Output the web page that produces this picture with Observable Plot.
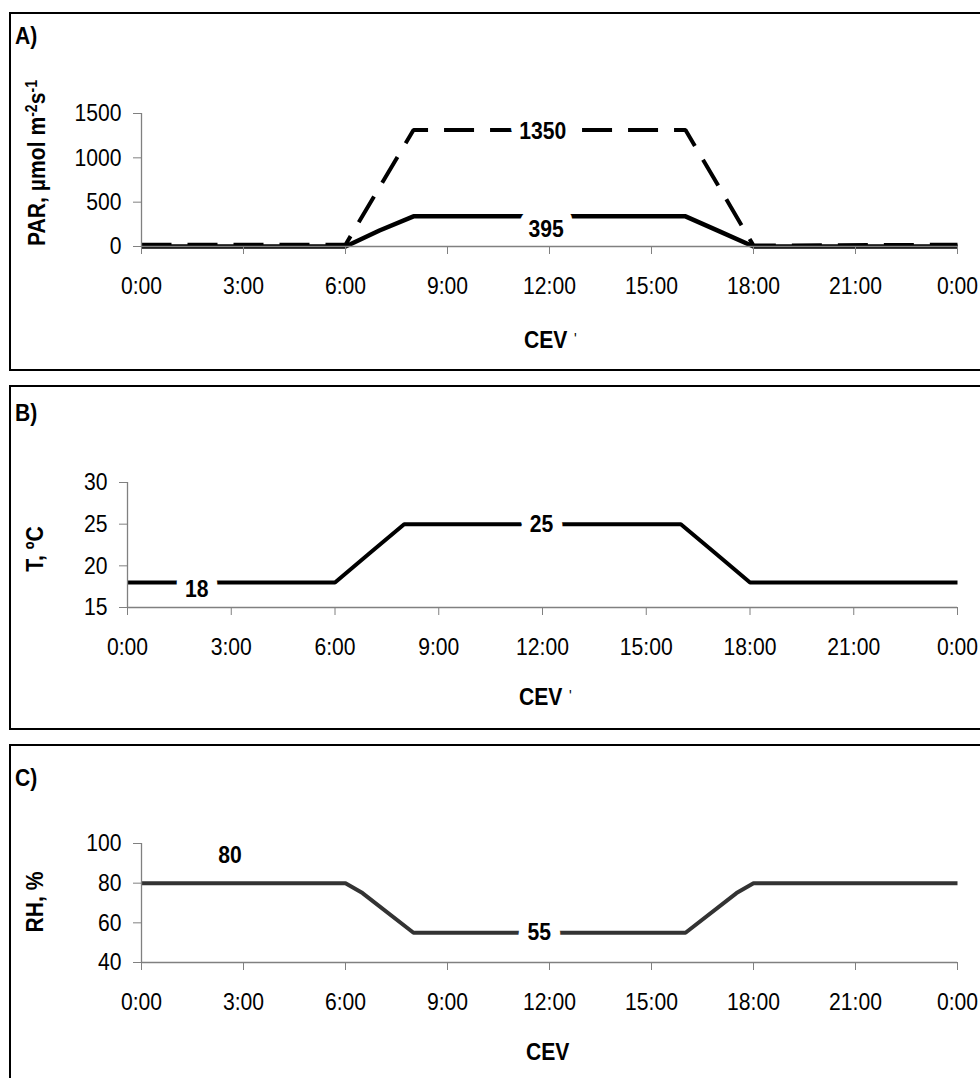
<!DOCTYPE html>
<html><head><meta charset="utf-8">
<script src="https://cdn.jsdelivr.net/npm/d3@7"></script>
<script src="https://cdn.jsdelivr.net/npm/@observablehq/plot@0.6"></script>
<style>
body{margin:0;background:#fff;}
#page{position:relative;width:980px;height:1078px;overflow:hidden;background:#fff;}
.panel{position:absolute;left:0;width:980px;}
.box{position:absolute;left:9px;width:1000px;border:2px solid #000;box-sizing:border-box;pointer-events:none;}
</style></head><body><div id="page"></div>
<script>
const FONT = '"Liberation Sans Narrow","Arial Narrow","Liberation Sans",Arial,sans-serif';
const SQUEEZE = 0.88;

// shared x axis (hours of the day)
const hourTicks = [0, 3, 6, 9, 12, 15, 18, 21, 24];
const hourLabels = ["0:00", "3:00", "6:00", "9:00", "12:00", "15:00", "18:00", "21:00", "0:00"];

// A) PAR
const parLowHours = [0, 6, 7, 8, 16, 17, 18, 24];
const parLowValues = [0, 0, 180, 340, 340, 170, 0, 0];
const parHighHours = [0, 6, 8, 16, 18, 24];
const parHighValues = [20, 20, 1315, 1315, 10, 20];
const parTicks = [0, 500, 1000, 1500];
const parLabelText = ["1350", "395"];
const parLabelHours = [11.8, 11.9];
const parLabelValues = [1300, 190];

// B) Temperature
const tempHours = [0, 6, 7, 8, 16, 17, 18, 24];
const tempValues = [18, 18, 21.5, 25, 25, 21.5, 18, 18];
const tempTicks = [15, 20, 25, 30];
const tempLabelText = ["18", "25"];
const tempLabelHours = [2.0, 11.97];
const tempLabelValues = [17.2, 24.95];

// C) Relative humidity
const rhHours = [0, 6, 6.5, 8, 16, 17.5, 18, 24];
const rhValues = [80, 80, 75, 55, 55, 75, 80, 80];
const rhTicks = [40, 60, 80, 100];
const rhLabelText = ["80", "55"];
const rhLabelHours = [2.6, 11.7];
const rhLabelValues = [94, 55.1];

const zip = (hs, vs) => hs.map((h, i) => ({h, v: vs[i]}));
const labelRows = (t, hs, vs) => t.map((s, i) => ({text: s, h: hs[i], v: vs[i]}));

const page = document.getElementById("page");

function squeeze(svg) {
  d3.select(svg).selectAll("text").each(function() {
    const len = this.getComputedTextLength();
    if (len > 0) {
      this.setAttribute("textLength", (len * SQUEEZE).toFixed(2));
      this.setAttribute("lengthAdjust", "spacingAndGlyphs");
    }
  });
}

function panel(cfg) {
  const marks = [];
  for (const s of cfg.series) {
    marks.push(Plot.line(s.data, {x: "h", y: "v", stroke: s.color, strokeWidth: s.width,
      strokeDasharray: s.dash || null, strokeLinejoin: "miter", strokeLinecap: "butt"}));
  }
  marks.push(Plot.text(cfg.labels, {x: "h", y: "v", text: "text", fontSize: 24, fontWeight: "bold",
    fill: "black", stroke: "white", strokeWidth: 22, paintOrder: "stroke", fontFamily: FONT}));
  marks.push(Plot.ruleY([cfg.yDomain[0]], {stroke: "#808080", strokeWidth: 1.3}));
  marks.push(Plot.ruleX([0], {stroke: "#808080", strokeWidth: 1.3}));
  marks.push(Plot.axisX({ticks: hourTicks, tickFormat: d => hourLabels[hourTicks.indexOf(d)],
    tickSize: 8, tickPadding: 22, stroke: "#808080", fill: "black", fontSize: 24, label: null}));
  marks.push(Plot.axisY({ticks: cfg.yTicks, tickFormat: d => String(d), tickSize: 8, tickPadding: 12,
    stroke: "#808080", fill: "black", fontSize: 24, label: null}));

  const svg = Plot.plot({
    width: 980, height: cfg.height,
    marginLeft: cfg.marginLeft, marginRight: 23, marginTop: cfg.marginTop, marginBottom: cfg.marginBottom,
    x: {domain: [0, 24]},
    y: {domain: cfg.yDomain},
    style: {fontFamily: FONT, background: "transparent", overflow: "visible", color: "black"},
    marks
  });
  const sel = d3.select(svg);
  sel.selectAll("text").attr("paint-order", "stroke");
  // panel letter
  sel.append("text").attr("x", 15).attr("y", cfg.letterY).attr("text-anchor", "start")
    .attr("font-family", FONT).attr("font-size", 24).attr("font-weight", "bold").text(cfg.letter);
  // y title
  const yt = sel.append("text").attr("transform", `translate(${cfg.yTitleX},${cfg.yTitleY}) rotate(-90)`)
    .attr("text-anchor", "middle").attr("font-family", FONT).attr("font-size", 24)
    .attr("font-weight", "bold");
  for (const part of cfg.yTitle) {
    const t = yt.append("tspan").text(part.t);
    if (part.sup) t.attr("font-size", 16).attr("baseline-shift", "super");
  }
  // x title
  sel.append("text").attr("x", cfg.xTitleX).attr("y", cfg.xTitleY).attr("text-anchor", "start")
    .attr("font-family", FONT).attr("font-size", 24).attr("font-weight", "bold").text("CEV");
  if (cfg.prime) {
    sel.append("text").attr("x", cfg.xTitleX + 50).attr("y", cfg.xTitleY - 3).attr("text-anchor", "start")
      .attr("font-family", FONT).attr("font-size", 16).text("'");
  }

  const div = document.createElement("div");
  div.className = "panel";
  div.style.top = cfg.top + "px";
  div.style.height = cfg.height + "px";
  div.appendChild(svg);
  page.appendChild(div);
  squeeze(svg);

  const box = document.createElement("div");
  box.className = "box";
  box.style.top = cfg.boxTop + "px";
  box.style.height = cfg.boxHeight + "px";
  page.appendChild(box);
}

panel({
  top: 0, height: 378, marginLeft: 141, marginTop: 113, marginBottom: 132,
  yDomain: [0, 1500], yTicks: parTicks,
  series: [
    {data: zip(parHighHours, parHighValues), color: "black", width: 4, dash: "30,16"},
    {data: zip(parLowHours, parLowValues), color: "black", width: 4.5}
  ],
  labels: labelRows(parLabelText, parLabelHours, parLabelValues),
  letter: "A)", letterY: 44,
  yTitle: [{t: "PAR, µmol m"}, {t: "-2", sup: true}, {t: "s"}, {t: "-1", sup: true}],
  yTitleX: 45, yTitleY: 163,
  xTitleX: 524, xTitleY: 348, prime: true,
  boxTop: 12, boxHeight: 359
});

panel({
  top: 378, height: 359, marginLeft: 127, marginTop: 104, marginBottom: 130,
  yDomain: [15, 30], yTicks: tempTicks,
  series: [{data: zip(tempHours, tempValues), color: "black", width: 4}],
  labels: labelRows(tempLabelText, tempLabelHours, tempLabelValues),
  letter: "B)", letterY: 43,
  yTitle: [{t: "T, ºC"}],
  yTitleX: 43, yTitleY: 171,
  xTitleX: 519, xTitleY: 327, prime: true,
  boxTop: 385, boxHeight: 345
});

panel({
  top: 737, height: 341, marginLeft: 141, marginTop: 106, marginBottom: 116,
  yDomain: [40, 100], yTicks: rhTicks,
  series: [{data: zip(rhHours, rhValues), color: "#333333", width: 4}],
  labels: labelRows(rhLabelText, rhLabelHours, rhLabelValues),
  letter: "C)", letterY: 49,
  yTitle: [{t: "RH, %"}],
  yTitleX: 43, yTitleY: 165,
  xTitleX: 526, xTitleY: 323, prime: false,
  boxTop: 744, boxHeight: 400
});
</script></body></html>
